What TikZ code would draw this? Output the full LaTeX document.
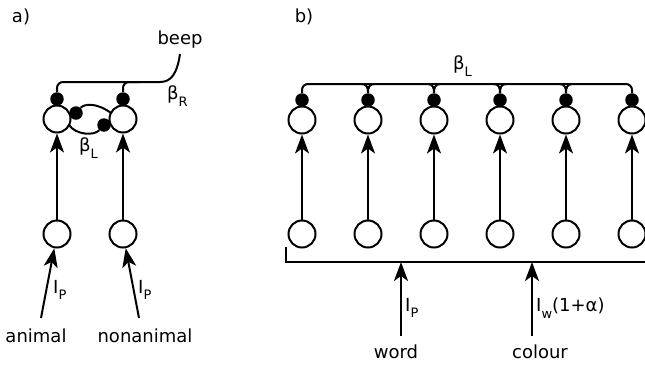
\documentclass[tikz,border=0pt]{standalone}
\usepackage{fontspec}
\setmainfont{DejaVu Sans}
\usetikzlibrary{arrows.meta}
\newcommand{\lsub}[1]{\raisebox{-0.38em}{\fontsize{13}{13}\selectfont #1}}
\tikzset{
  lw/.style={line width=2pt},
  neuron/.style={circle, draw, lw, minimum size=27pt, inner sep=0pt},
  blob/.style={circle, fill=black, minimum size=13.5pt, inner sep=0pt},
  arr/.style={lw, -{Stealth[length=19pt, width=14pt, inset=5pt]}},
  lbl/.style={font=\fontsize{18}{20}\selectfont, inner sep=0pt},
}
\begin{document}
\begin{tikzpicture}[x=1pt, y=-1pt]
\useasboundingbox (0,0) rectangle (645,368);

% panel labels
\node[lbl] (la) at (21,17) {a)};
\node[lbl] (lb) at (304,17) {b)};

% ---------- panel a ----------
\node[neuron] (at1) at (57,119) {};
\node[neuron] (at2) at (123,119) {};
\node[neuron] (ab1) at (57,234) {};
\node[neuron] (ab2) at (123,234) {};
\node[blob] (ad1) at (57,99) {};
\node[blob] (ad2) at (123,99) {};
\node[blob] (ai1) at (76,113) {};
\node[blob] (ai2) at (104,125) {};

\draw[arr] (ab1) -- (at1);
\draw[arr] (ab2) -- (at2);

\node[lbl] (beep) at (180,40) {beep};
\coordinate (bend) at (180,54);
\draw[lw, rounded corners=6pt] (ad1.north) |- (160,82);
\draw[lw] (160,82) .. controls (171,82) and (177,74) .. (bend);
\draw[lw, rounded corners=6pt] (ad2.north) |- (140,82);
\node[lbl, anchor=west] (bR) at (167,96) {β\lsub{R}};

% inner loop
\draw[lw] (ai1) .. controls (84,104) and (96,102) .. (111,113);
\draw[lw] (69,125) .. controls (76,135) and (94,136) .. (ai2);
\node[lbl, anchor=west] (bL) at (79,148) {β\lsub{L}};

% inputs
\coordinate (inA) at (41,318);
\coordinate (inN) at (139,318);
\draw[arr] (inA) -- (ab1);
\draw[arr] (inN) -- (ab2);
\node[lbl, anchor=west] (ipa) at (53,290) {I\lsub{P}};
\node[lbl, anchor=west] (ipn) at (138,290) {I\lsub{P}};
\node[lbl] (animal) at (36,336) {animal};
\node[lbl] (nonanimal) at (145,336) {nonanimal};

% ---------- panel b ----------
\foreach \i/\x in {1/302,2/368,3/434,4/500,5/566,6/632}{
  \node[neuron] (bt\i) at (\x,120) {};
  \node[neuron] (bb\i) at (\x,234) {};
  \node[blob] (bd\i) at (\x,100) {};
  \draw[arr] (bb\i) -- (bt\i);
}
\draw[lw, rounded corners=6pt] (bd1.north) |- (bd6.north |- 0,84) -- (bd6.north);
\foreach \i/\x in {2/368,3/434,4/500,5/566}{
  \draw[lw] (\x-6,84) .. controls (\x-1,84) and (\x,88) .. (bd\i.north);
  \draw[lw] (\x+6,84) .. controls (\x+1,84) and (\x,88) .. (bd\i.north);
}
\node[lbl, anchor=west] (bLb) at (453,66) {β\lsub{L}};

% bottom bar
\coordinate (barL) at (286,262);
\coordinate (barT) at (286,247);
\coordinate (barR) at (645,262);
\draw[lw] (barT) -- (barL) -- (barR);
\coordinate (wt) at (401,262);
\coordinate (ct) at (532,262);
\coordinate (wb) at (401,336);
\coordinate (cb) at (532,336);
\draw[arr] (wb) -- (wt);
\draw[arr] (cb) -- (ct);
\node[lbl, anchor=west] (ipw) at (405,308) {I\lsub{P}};
\node[lbl, anchor=west] (iwc) at (536,308) {I\lsub{w}(1+α)};
\node[lbl] (word) at (396,352) {word};
\node[lbl] (colour) at (540,352) {colour};
\end{tikzpicture}
\end{document}
